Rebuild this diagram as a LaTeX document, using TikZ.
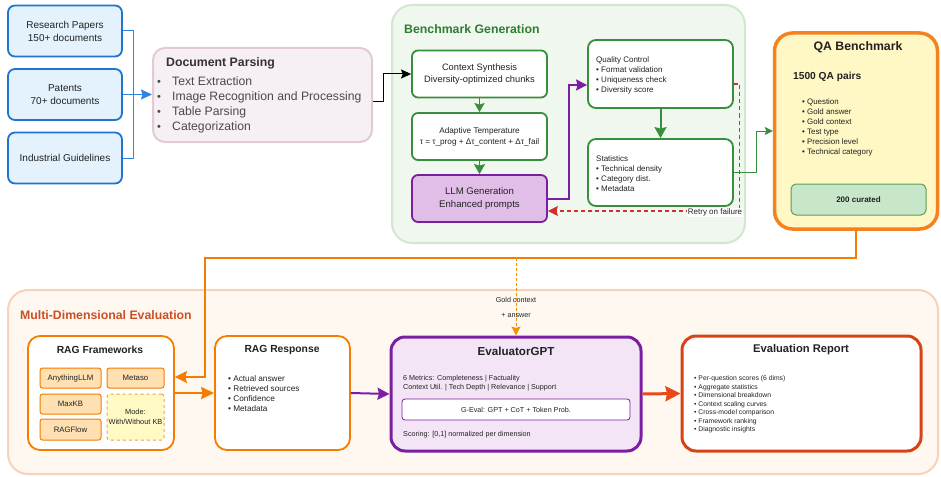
\documentclass[tikz,border=0pt]{standalone}
\usepackage{fontspec}
\setmainfont{Liberation Sans}
\usetikzlibrary{arrows.meta,calc}
\newcommand\fsz[2]{\fontsize{#1}{#2}\selectfont}
\definecolor{bluebd}{HTML}{1E74D0}
\definecolor{bluefill}{HTML}{E3F2FD}
\definecolor{bluearr}{HTML}{2E86DE}
\definecolor{dpfill}{HTML}{F6EFF4}
\definecolor{dpbd}{HTML}{E2CAD9}
\definecolor{bgfill}{HTML}{EFF7EE}
\definecolor{bgbd}{HTML}{D3E7D0}
\definecolor{gbd}{HTML}{388E3C}
\definecolor{gtitle}{HTML}{2E7D32}
\definecolor{llmfill}{HTML}{E1BEE7}
\definecolor{purp}{HTML}{7B1FA2}
\definecolor{redd}{HTML}{D32F2F}
\definecolor{qafill}{HTML}{FFF7C4}
\definecolor{qabd}{HTML}{F5821F}
\definecolor{curfill}{HTML}{C8E6C9}
\definecolor{curbd}{HTML}{5A9E5A}
\definecolor{mdfill}{HTML}{FEF8F1}
\definecolor{mdbd}{HTML}{F8D1B8}
\definecolor{mdtitle}{HTML}{CC4E24}
\definecolor{orng}{HTML}{F57C00}
\definecolor{subfill}{HTML}{FFE0B2}
\definecolor{modefill}{HTML}{FFF9C4}
\definecolor{modebd}{HTML}{F5A040}
\definecolor{egfill}{HTML}{F3E5F5}
\definecolor{orred}{HTML}{E64A19}
\definecolor{erbd}{HTML}{D84315}
\definecolor{txt}{HTML}{222222}
\definecolor{dptxt}{HTML}{4A4A4A}
\tikzset{
  srcbox/.style={draw=bluebd, fill=bluefill, line width=1.8pt, rounded corners=7pt,
    minimum width=114pt, minimum height=51pt, align=center, font=\fsz{10}{13}, text=txt, inner sep=0pt},
  gbox/.style={draw=gbd, fill=white, line width=1.8pt, rounded corners=6pt,
    minimum width=135pt, minimum height=47pt, align=center, inner sep=0pt, text=txt},
  obox/.style={draw=orng, fill=white, line width=1.8pt, rounded corners=12pt,
    minimum width=135pt, minimum height=114pt, inner sep=0pt},
  subbox/.style={draw=orng, fill=subfill, line width=1pt, rounded corners=2.5pt,
    minimum width=61pt, minimum height=20pt, font=\fsz{7.8}{9}, text=txt, inner sep=0pt},
  lbl/.style={inner sep=0pt, align=left, anchor=west, text=txt},
  ttl/.style={inner sep=0pt, font=\bfseries\fsz{10.3}{12}, text=txt},
  tip/.style 2 args={-{Stealth[length=#1pt,width=#2pt,inset=1.5pt]}},
}
\begin{document}
\begin{tikzpicture}[x=1pt,y=-1pt]
\useasboundingbox (0,0) rectangle (941,476);

% ---------- sources ----------
\node[srcbox] (rp) at (65,31) {Research Papers\\150+ documents};
\node[srcbox] (pat) at (65,94.5) {Patents\\70+ documents};
\node[srcbox] (ig) at (65,158) {Industrial Guidelines};

% ---------- document parsing ----------
\node[draw=dpbd, fill=dpfill, line width=2pt, rounded corners=12pt, minimum width=219pt,
  minimum height=94pt] (dp) at (262.5,95) {};
\node[lbl, font=\bfseries\fsz{12.3}{14}, text=black!80] (dpt) at (166,63) {Document Parsing};
\node[lbl, font=\fsz{12.2}{15}, text=dptxt] (dpl) at (157,104.5)
  {\makebox[15pt][l]{\fsz{11}{11}\textbullet}Text Extraction\\
   \makebox[15pt][l]{\fsz{11}{11}\textbullet}Image Recognition and Processing\\
   \makebox[15pt][l]{\fsz{11}{11}\textbullet}Table Parsing\\
   \makebox[15pt][l]{\fsz{11}{11}\textbullet}Categorization};

\coordinate (bj) at (133,94.5);
\draw[bluearr, line width=1pt] (rp.east) -| (bj);
\draw[bluearr, line width=1pt] (ig.east) -| (bj);
\draw[bluearr, line width=1.2pt, tip={11}{10}] (pat.east) -- (pat.east -| dp.west);

% ---------- benchmark generation ----------
\node[draw=bgbd, fill=bgfill, line width=2pt, rounded corners=20pt, minimum width=353pt,
  minimum height=238pt] (bg) at (568.5,124) {};
\node[lbl, font=\bfseries\fsz{12.3}{14}, text=gtitle] (bgt) at (404,29) {Benchmark Generation};

\node[gbox, font=\fsz{9.3}{12}] (cs) at (479.5,74) {Context Synthesis\\Diversity-optimized chunks};
\node[gbox, font=\fsz{8.2}{11}] (at) at (479.5,136.5) {Adaptive Temperature\\τ = τ\_prog + Δτ\_content + Δτ\_fail};
\node[gbox, draw=purp, fill=llmfill, font=\fsz{9.6}{12.5}] (llm) at (479.5,198.5) {LLM Generation\\Enhanced prompts};
\node[gbox, minimum width=145pt, minimum height=68pt, rounded corners=8pt] (qc) at (660.5,74) {};
\node[lbl, font=\fsz{8}{10}] (qct) at (596,75) {Quality Control\\\textbullet{} Format validation\\\textbullet{} Uniqueness check\\\textbullet{} Diversity score};
\node[gbox, minimum width=145pt, minimum height=67pt, rounded corners=8pt] (st) at (660.5,172.5) {};
\node[lbl, font=\fsz{8}{10.2}] (stt) at (596,173.5) {Statistics\\\textbullet{} Technical density\\\textbullet{} Category dist.\\\textbullet{} Metadata};

\draw[black, line width=1pt, tip={10}{9}] ($(dp.east)+(0,7)$) -- ++(10,0) |- (cs.west);
\draw[gbd, line width=1.8pt, tip={9}{10}] (cs.south) -- (at.north);
\draw[gbd, line width=1.8pt, tip={10}{11}] (at.south) -- (llm.north);
\draw[gbd, line width=2pt, tip={11}{12}] (qc.south) -- (st.north);
\draw[purp, line width=2pt, tip={11}{11}] (llm.east) -- ++(21,0) |- ($(qc.west)+(0,11)$);
\draw[redd, line width=1.2pt, dash pattern=on 4pt off 3pt, tip={10}{10}] ($(qc.east)+(0,10)$) -- ++(5.5,0) |- ($(llm.east)+(0,12.5)$);
\node[inner sep=1pt, fill=white, font=\fsz{8}{9}, text=txt] (retry) at (715,212.5) {Retry on failure};

% ---------- QA benchmark ----------
\node[draw=qabd, fill=qafill, line width=3.5pt, rounded corners=18pt, minimum width=163pt,
  minimum height=196pt] (qa) at (856,131) {};
\node[ttl, font=\bfseries\fsz{12.3}{14}] (qat) at (858,47) {QA Benchmark};
\node[lbl, font=\bfseries\fsz{10.2}{12}] (qap) at (793,77) {1500 QA pairs};
\node[lbl, font=\fsz{7.9}{10}] (qal) at (802,127) {\textbullet{} Question\\\textbullet{} Gold answer\\\textbullet{} Gold context\\\textbullet{} Test type\\\textbullet{} Precision level\\\textbullet{} Technical category};
\node[draw=curbd, fill=curfill, line width=1pt, rounded corners=5pt, minimum width=135pt,
  minimum height=31pt, font=\bfseries\fsz{8}{10}, text=txt, inner sep=0pt] (cur) at (858.5,199.5) {200 curated};
\draw[gbd, line width=1pt, tip={8}{8}] (st.east) -- ++(23,0) |- (qa.west);

% ---------- multi-dimensional evaluation ----------
\node[draw=mdbd, fill=mdfill, line width=2pt, rounded corners=20pt, minimum width=930pt,
  minimum height=184pt] (md) at (473,382) {};
\node[lbl, font=\bfseries\fsz{12.3}{14}, text=mdtitle] (mdt) at (20,315) {Multi-Dimensional Evaluation};

\node[obox, minimum width=146pt] (rf) at (101,393) {};
\node[ttl] (rft) at (100,350) {RAG Frameworks};
\node[subbox] (any) at (70.5,378) {AnythingLLM};
\node[subbox, minimum width=57pt] (met) at (135.5,378) {Metaso};
\node[subbox] (max) at (70.5,404) {MaxKB};
\node[subbox, minimum height=21pt] (rag) at (70.5,429.5) {RAGFlow};
\node[subbox, draw=modebd, dashed, fill=modefill, minimum width=57pt, minimum height=46pt,
  align=center, font=\fsz{7.4}{10}] (mode) at (135.5,417) {Mode:\\With/Without KB};

\node[obox] (rr) at (282.5,393) {};
\node[ttl] (rrt) at (282,350) {RAG Response};
\node[lbl, font=\fsz{8.2}{10}] (rrl) at (228,394) {\textbullet{} Actual answer\\\textbullet{} Retrieved sources\\\textbullet{} Confidence\\\textbullet{} Metadata};

\node[draw=purp, fill=egfill, line width=3pt, rounded corners=14pt, minimum width=250pt,
  minimum height=114pt] (eg) at (516,394) {};
\node[ttl, font=\bfseries\fsz{11.6}{13}] (egt) at (516,351) {EvaluatorGPT};
\node[lbl, font=\fsz{7.2}{9}] (egm) at (403,383) {6 Metrics: Completeness | Factuality\\Context Util. | Tech Depth | Relevance | Support};
\node[draw=purp, fill=white, line width=0.8pt, rounded corners=3pt, minimum width=228pt,
  minimum height=21pt, font=\fsz{7.2}{9}, text=txt, inner sep=0pt] (ge) at (516,409.5) {G-Eval: GPT + CoT + Token Prob.};
\node[lbl, font=\fsz{7.2}{9}] (egs) at (403,435) {Scoring: [0,1] normalized per dimension};

\node[draw=erbd, fill=white, line width=3pt, rounded corners=14pt, minimum width=239pt,
  minimum height=115pt] (er) at (801.5,393.5) {};
\node[ttl, font=\bfseries\fsz{11.2}{13}] (ert) at (801,350) {Evaluation Report};
\node[lbl, font=\fsz{6.8}{8.5}] (erl) at (694,404.5) {\textbullet{} Per-question scores (6 dims)\\\textbullet{} Aggregate statistics\\\textbullet{} Dimensional breakdown\\\textbullet{} Context scaling curves\\\textbullet{} Cross-model comparison\\\textbullet{} Framework ranking\\\textbullet{} Diagnostic insights};

% ---------- connectors ----------
\coordinate (turn) at (205,258);
\coordinate (gtop) at (516,258);
\draw[orng, line width=1.5pt, tip={12}{12}] (qa.south) |- (turn) |- ($(rf.east)+(0,-16)$);
\draw[orng!85!yellow, line width=1pt, dash pattern=on 3pt off 2pt, tip={9}{9}] (gtop) -- (eg.north);
\node[inner sep=0pt, font=\fsz{7.2}{9}, text=txt] (gc1) at (516,300) {Gold context};
\node[inner sep=0pt, font=\fsz{7.2}{9}, text=txt] (gc2) at (516,315) {+ answer};
\draw[orng, line width=2pt, tip={13}{12}] (rf.east) -- (rr.west);
\draw[purp, line width=2pt, tip={12}{12}] (rr.east) -- (eg.west);
\draw[orred, line width=3pt, tip={15}{15}] (eg.east) -- (er.west);
\end{tikzpicture}
\end{document}
